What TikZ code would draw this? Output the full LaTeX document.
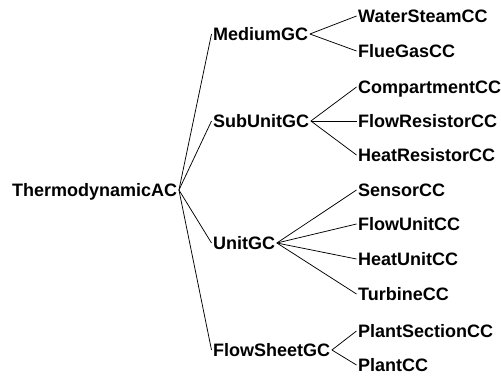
\documentclass[tikz,border=0pt]{standalone}
\usepackage{fontspec}
\setmainfont{Liberation Sans}

\begin{document}
\begin{tikzpicture}[x=1pt, y=-1pt, every node/.style={font=\fontsize{18}{20}\selectfont\bfseries},
	cls/.style={anchor=west, inner xsep=1.5pt, inner ysep=0pt, text height=12.5pt, text depth=0pt},
	link/.style={line width=0.75pt}]
	\useasboundingbox (0,0) rectangle (501,378);
	\node[cls] (thermo) at (10.5,190) {ThermodynamicAC};
	% group classes
	\foreach \n/\y/\t in {medium/34/MediumGC, subunit/121/SubUnitGC, unit/243/UnitGC, flowsheet/350/FlowSheetGC} {
		\node[cls] (\n) at (211.5,\y) {\t};
		\draw[link] (thermo.east) -- (\n.west);
	}
	% component classes
	\foreach \n/\y/\t/\p in {water/16/WaterSteamCC/medium, flue/51/FlueGasCC/medium,
		comp/87/CompartmentCC/subunit, flowres/121/FlowResistorCC/subunit, heatres/155/HeatResistorCC/subunit,
		sensor/190/SensorCC/unit, flowunit/224/FlowUnitCC/unit, heatunit/259/HeatUnitCC/unit, turbine/294/TurbineCC/unit,
		section/331/PlantSectionCC/flowsheet, plant/365/PlantCC/flowsheet} {
		\node[cls] (\n) at (356.5,\y) {\t};
		\draw[link] (\p.east) -- (\n.west);
	}
\end{tikzpicture}
\end{document}
